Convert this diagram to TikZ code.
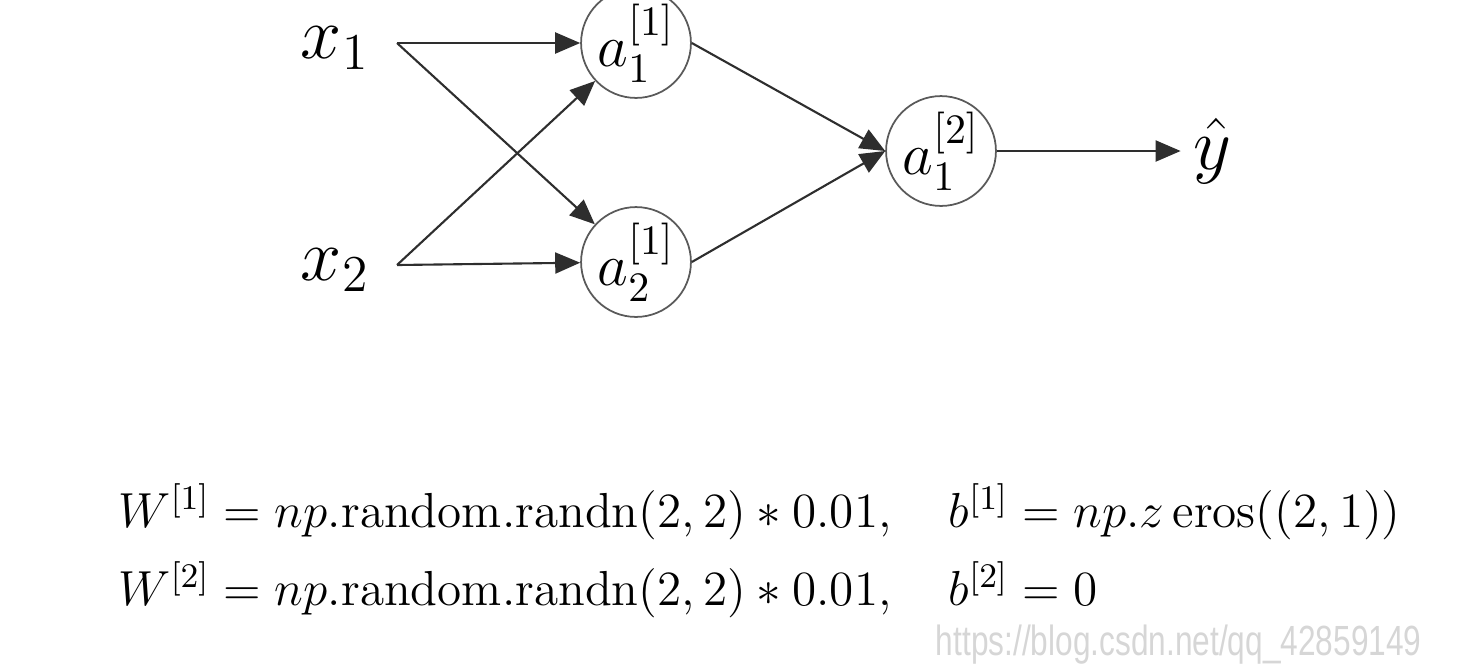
\RequirePackage{fix-cm}
\documentclass[tikz,border=0pt]{standalone}
\usepackage{tikz}
\usetikzlibrary{positioning, arrows.meta}
\usepackage{xcolor}
\usepackage{amsmath}
\usepackage{fontspec}
\newfontfamily\markfont{Liberation Sans}
\definecolor{EdgeGray}{HTML}{2E2E2E}
\definecolor{RingGray}{HTML}{5A5A5A}
\definecolor{MarkGray}{HTML}{D6D6D6}

\begin{document}
\begin{tikzpicture}[x=0.01cm, y=-0.01cm,
    neuron/.style={draw=RingGray, line width=0.5pt, circle, minimum size=1.0cm, inner sep=0pt, font=\fontsize{17}{19}\selectfont},
    conn/.style={draw=EdgeGray, line width=0.6pt, -{Triangle[length=2.5mm, width=2.1mm]}}]
    \useasboundingbox (0,0) rectangle (1480,669);

    % Inputs
    \node[font=\fontsize{21}{23}\selectfont] (x1) at (335,48) {$x_1$};
    \node[font=\fontsize{21}{23}\selectfont] (x2) at (335,270) {$x_2$};
    \coordinate (s1) at (397,43);
    \coordinate (s2) at (397,265);

    % Neurons
    \node[neuron] (h1) at (636,43) {$a_1^{[1]}$};
    \node[neuron] (h2) at (636,262) {$a_2^{[1]}$};
    \node[neuron] (out) at (941,151) {$a_1^{[2]}$};
    \node[font=\fontsize{21}{23}\selectfont] (yhat) at (1212,151) {$\hat{y}$};

    % Connections
    \foreach \s in {s1, s2} {
        \foreach \h in {h1, h2} {
            \draw[conn] (\s) -- (\h);
        }
    }
    \draw[conn] (h1.east) -- (out.west);
    \draw[conn] (h2.east) -- (out.west);
    \draw[conn] (out) -- (yhat);

    % Initialisation
    \node[anchor=base west, inner sep=0pt, font=\fontsize{14}{17}\selectfont] (w1) at (118,527)
        {$W^{[1]} = np.\mathrm{random.randn}(2,2) * 0.01, \quad b^{[1]} = np.z\,\mathrm{eros}((2,1))$};
    \node[anchor=base west, inner sep=0pt, font=\fontsize{14}{17}\selectfont] (w2) at (118,605)
        {$W^{[2]} = np.\mathrm{random.randn}(2,2) * 0.01, \quad b^{[2]} = 0$};

    % Watermark
    \node[anchor=base east, inner sep=0pt, text=MarkGray, xscale=0.75, font=\markfont\fontsize{12}{14}\selectfont] (mark) at (1422,655)
        {https://blog.csdn.net/qq\_42859149};
\end{tikzpicture}
\end{document}
